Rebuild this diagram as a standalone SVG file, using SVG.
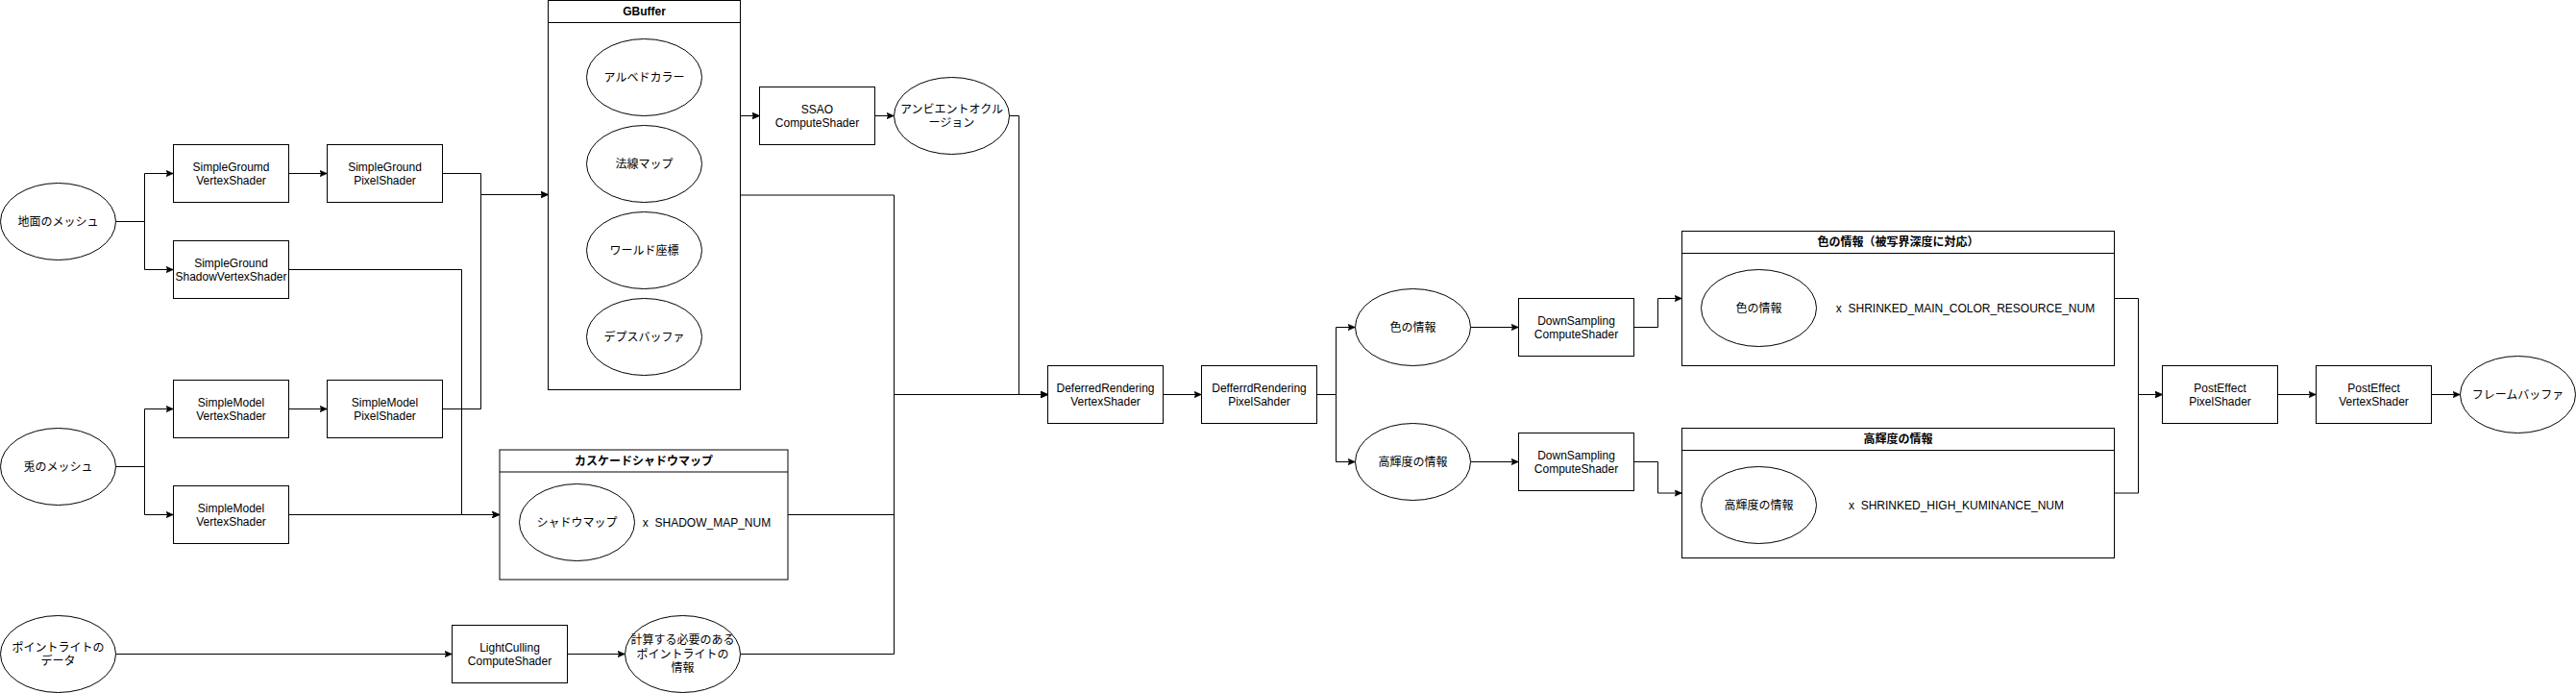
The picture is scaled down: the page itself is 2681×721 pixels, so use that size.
<svg xmlns="http://www.w3.org/2000/svg" width="2681" height="721" viewBox="0 0 2681 721">
<style>
.n{fill:#fff;stroke:#000;stroke-width:1}
.c{fill:none;stroke:#000;stroke-width:1}
.t{font-family:"Liberation Sans","Noto Sans CJK JP",Arial,sans-serif;font-size:12px;fill:#000;text-anchor:middle}
.b{font-weight:bold}
.s{text-anchor:start}
</style>
<defs>
<marker id="a" viewBox="0 0 8 7" refX="8" refY="3.5" markerWidth="8" markerHeight="7" orient="auto" markerUnits="userSpaceOnUse">
<path d="M0,0 L8,3.5 L0,7 L2,3.5 Z" fill="#000" stroke="#000" stroke-width="0.5"/>
</marker>
</defs>
<rect width="2681" height="721" fill="#fff"/>

<g id="connectors">
<path class="c" marker-end="url(#a)" d="M120.5,230.5 H150.5 V180.5 H180.5"/>
<path class="c" marker-end="url(#a)" d="M120.5,230.5 H150.5 V280.5 H180.5"/>
<path class="c" marker-end="url(#a)" d="M300.5,180.5 H340.5"/>
<path class="c" marker-end="url(#a)" d="M460.5,180.5 H500.5 V202.5 H570.5"/>
<path class="c" marker-end="url(#a)" d="M460.5,425.5 H500.5 V202.5 H570.5"/>
<path class="c" marker-end="url(#a)" d="M300.5,280.5 H480.5 V535.5 H520"/>
<path class="c" marker-end="url(#a)" d="M120.5,485.5 H150.5 V425.5 H180.5"/>
<path class="c" marker-end="url(#a)" d="M120.5,485.5 H150.5 V535.5 H180.5"/>
<path class="c" marker-end="url(#a)" d="M300.5,425.5 H340.5"/>
<path class="c" marker-end="url(#a)" d="M300.5,535.5 H520"/>
<path class="c" marker-end="url(#a)" d="M730.5,170.5 H750.5 V120.5 H790.5"/>
<path class="c" marker-end="url(#a)" d="M730.5,350.5 H750.5 V120.5 H790.5"/>
<path class="c" marker-end="url(#a)" d="M910.5,120.5 H930.5"/>
<path class="c" marker-end="url(#a)" d="M1050.5,120.5 H1060.5 V410.5 H1090.5"/>
<path class="c" marker-end="url(#a)" d="M770.5,203 H930.5 V410.5 H1090.5"/>
<path class="c" marker-end="url(#a)" d="M820,535.5 H930.5 V410.5 H1090.5"/>
<path class="c" marker-end="url(#a)" d="M770.5,680.5 H930.5 V410.5 H1090.5"/>
<path class="c" marker-end="url(#a)" d="M120.5,680.5 H470.5"/>
<path class="c" marker-end="url(#a)" d="M590.5,680.5 H650.5"/>
<path class="c" marker-end="url(#a)" d="M1210.5,410.5 H1250.5"/>
<path class="c" marker-end="url(#a)" d="M1370.5,410.5 H1390.5 V340.5 H1410.5"/>
<path class="c" marker-end="url(#a)" d="M1370.5,410.5 H1390.5 V480.5 H1410.5"/>
<path class="c" marker-end="url(#a)" d="M1530.5,340.5 H1580.5"/>
<path class="c" marker-end="url(#a)" d="M1530.5,480.5 H1580.5"/>
<path class="c" marker-end="url(#a)" d="M1700.5,340.5 H1725.5 V310.5 H1750.5"/>
<path class="c" marker-end="url(#a)" d="M1700.5,480.5 H1725.5 V513 H1750.5"/>
<path class="c" marker-end="url(#a)" d="M2200.5,310.5 H2225.5 V410.5 H2250.5"/>
<path class="c" marker-end="url(#a)" d="M2200.5,513 H2225.5 V410.5 H2250.5"/>
<path class="c" marker-end="url(#a)" d="M2370.5,410.5 H2410.5"/>
<path class="c" marker-end="url(#a)" d="M2530.5,410.5 H2560.5"/>
</g>

<g id="ground-mesh"><ellipse class="n" cx="60.5" cy="230.5" rx="60" ry="40"/><text class="t" x="60.5" y="234.5">地面のメッシュ</text></g>
<g id="sg-vs"><rect class="n" x="180.5" y="150.5" width="120" height="60"/><text class="t" x="240.5" y="177.5">SimpleGroumd</text><text class="t" x="240.5" y="192">VertexShader</text></g>
<g id="sg-ps"><rect class="n" x="340.5" y="150.5" width="120" height="60"/><text class="t" x="400.5" y="177.5">SimpleGround</text><text class="t" x="400.5" y="192">PixelShader</text></g>
<g id="sg-svs"><rect class="n" x="180.5" y="250.5" width="120" height="60"/><text class="t" x="240.5" y="277.5">SimpleGround</text><text class="t" x="240.5" y="292">ShadowVertexShader</text></g>

<g id="rabbit-mesh"><ellipse class="n" cx="60.5" cy="485.5" rx="60" ry="40"/><text class="t" x="60.5" y="489.5">兎のメッシュ</text></g>
<g id="sm-vs"><rect class="n" x="180.5" y="395.5" width="120" height="60"/><text class="t" x="240.5" y="422.5">SimpleModel</text><text class="t" x="240.5" y="437">VertexShader</text></g>
<g id="sm-ps"><rect class="n" x="340.5" y="395.5" width="120" height="60"/><text class="t" x="400.5" y="422.5">SimpleModel</text><text class="t" x="400.5" y="437">PixelShader</text></g>
<g id="sm-vs2"><rect class="n" x="180.5" y="505.5" width="120" height="60"/><text class="t" x="240.5" y="532.5">SimpleModel</text><text class="t" x="240.5" y="547">VertexShader</text></g>

<g id="gbuffer">
<rect class="n" x="570.5" y="0.5" width="200" height="405"/>
<line class="c" x1="570.5" y1="23.5" x2="770.5" y2="23.5"/>
<text class="t b" x="670.5" y="16">GBuffer</text>
</g>
<g id="albedo"><ellipse class="n" cx="670.5" cy="80.5" rx="60" ry="40"/><text class="t" x="670.5" y="84.5">アルベドカラー</text></g>
<g id="normal"><ellipse class="n" cx="670.5" cy="170.5" rx="60" ry="40"/><text class="t" x="670.5" y="174.5">法線マップ</text></g>
<g id="world"><ellipse class="n" cx="670.5" cy="260.5" rx="60" ry="40"/><text class="t" x="670.5" y="264.5">ワールド座標</text></g>
<g id="depth"><ellipse class="n" cx="670.5" cy="350.5" rx="60" ry="40"/><text class="t" x="670.5" y="354.5">デプスバッファ</text></g>

<g id="ssao"><rect class="n" x="790.5" y="90.5" width="120" height="60"/><text class="t" x="850.5" y="117.5">SSAO</text><text class="t" x="850.5" y="132">ComputeShader</text></g>
<g id="ao"><ellipse class="n" cx="990.5" cy="120.5" rx="60" ry="40"/><text class="t" x="990.5" y="117.5">アンビエントオクル</text><text class="t" x="990.5" y="132">ージョン</text></g>

<g id="cascade">
<rect class="n" x="520" y="468" width="300" height="135"/>
<line class="c" x1="520" y1="491" x2="820" y2="491"/>
<text class="t b" x="670" y="484">カスケードシャドウマップ</text>
</g>
<g id="shadowmap"><ellipse class="n" cx="600.5" cy="543.5" rx="60" ry="40"/><text class="t" x="600.5" y="547.5">シャドウマップ</text></g>
<g id="shadow-num"><text class="t" x="735.5" y="547.5">x&#160; SHADOW_MAP_NUM</text></g>

<g id="pointlight"><ellipse class="n" cx="60.5" cy="680.5" rx="60" ry="40"/><text class="t" x="60.5" y="677.5">ポイントライトの</text><text class="t" x="60.5" y="692">データ</text></g>
<g id="lightculling"><rect class="n" x="470.5" y="650.5" width="120" height="60"/><text class="t" x="530.5" y="677.5">LightCulling</text><text class="t" x="530.5" y="692">ComputeShader</text></g>
<g id="needed-lights"><ellipse class="n" cx="710.5" cy="680.5" rx="60" ry="40"/><text class="t" x="710.5" y="670">計算する必要のある</text><text class="t" x="710.5" y="684.5">ポイントライトの</text><text class="t" x="710.5" y="699">情報</text></g>

<g id="dr-vs"><rect class="n" x="1090.5" y="380.5" width="120" height="60"/><text class="t" x="1150.5" y="407.5">DeferredRendering</text><text class="t" x="1150.5" y="422">VertexShader</text></g>
<g id="dr-ps"><rect class="n" x="1250.5" y="380.5" width="120" height="60"/><text class="t" x="1310.5" y="407.5">DefferrdRendering</text><text class="t" x="1310.5" y="422">PixelSahder</text></g>

<g id="color-info"><ellipse class="n" cx="1470.5" cy="340.5" rx="60" ry="40"/><text class="t" x="1470.5" y="344.5">色の情報</text></g>
<g id="lum-info"><ellipse class="n" cx="1470.5" cy="480.5" rx="60" ry="40"/><text class="t" x="1470.5" y="484.5">高輝度の情報</text></g>
<g id="ds1"><rect class="n" x="1580.5" y="310.5" width="120" height="60"/><text class="t" x="1640.5" y="337.5">DownSampling</text><text class="t" x="1640.5" y="352">ComputeShader</text></g>
<g id="ds2"><rect class="n" x="1580.5" y="450.5" width="120" height="60"/><text class="t" x="1640.5" y="477.5">DownSampling</text><text class="t" x="1640.5" y="492">ComputeShader</text></g>

<g id="color-container">
<rect class="n" x="1750.5" y="240.5" width="450" height="140"/>
<line class="c" x1="1750.5" y1="263.5" x2="2200.5" y2="263.5"/>
<text class="t b" x="1975.5" y="256">色の情報（被写界深度に対応）</text>
</g>
<g id="color-inner"><ellipse class="n" cx="1830.5" cy="320.5" rx="60" ry="40"/><text class="t" x="1830.5" y="324.5">色の情報</text></g>
<g id="color-num"><text class="t" x="2045.5" y="324.5">x&#160; SHRINKED_MAIN_COLOR_RESOURCE_NUM</text></g>

<g id="lum-container">
<rect class="n" x="1750.5" y="445.5" width="450" height="135"/>
<line class="c" x1="1750.5" y1="468.5" x2="2200.5" y2="468.5"/>
<text class="t b" x="1975.5" y="461">高輝度の情報</text>
</g>
<g id="lum-inner"><ellipse class="n" cx="1830.5" cy="525.5" rx="60" ry="40"/><text class="t" x="1830.5" y="529.5">高輝度の情報</text></g>
<g id="lum-num"><text class="t" x="2036" y="529.5">x&#160; SHRINKED_HIGH_KUMINANCE_NUM</text></g>

<g id="pe-ps"><rect class="n" x="2250.5" y="380.5" width="120" height="60"/><text class="t" x="2310.5" y="407.5">PostEffect</text><text class="t" x="2310.5" y="422">PixelShader</text></g>
<g id="pe-vs"><rect class="n" x="2410.5" y="380.5" width="120" height="60"/><text class="t" x="2470.5" y="407.5">PostEffect</text><text class="t" x="2470.5" y="422">VertexShader</text></g>
<g id="framebuffer"><ellipse class="n" cx="2620.5" cy="410.5" rx="60" ry="40"/><text class="t" x="2620.5" y="414.5">フレームバッファ</text></g>
</svg>
